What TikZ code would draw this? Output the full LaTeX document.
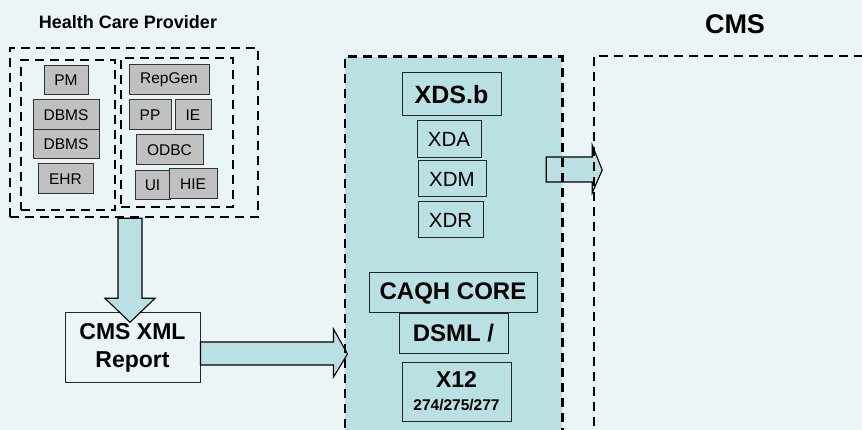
\documentclass[tikz,border=0pt]{standalone}
\usepackage{fontspec}
\setmainfont{Liberation Sans}
\usetikzlibrary{calc}

\definecolor{bgblue}{HTML}{EBF4F6}
\definecolor{panelblue}{HTML}{B9E0E3}
\definecolor{boxgray}{HTML}{C0C0C0}

\tikzset{
  dashline/.style = {line width=2.6pt, dash pattern=on 9pt off 6pt},
  dashbox/.style = {dashline, draw, inner sep=0pt},
  graybox/.style = {draw=black!80, line width=1pt, fill=boxgray, inner sep=0pt,
    font=\fontsize{15.5}{18}\selectfont},
  stdbox/.style = {draw=black!85, line width=1pt, inner sep=0pt, align=center},
  blockarr/.style = {draw=black, line width=1.1pt, fill=panelblue, line join=miter},
  heading/.style = {font=\bfseries\fontsize{#1}{#1}\selectfont}
}

\begin{document}
\begin{tikzpicture}[x=1pt, y=-1pt]
\clip (0,0) rectangle (862,430);
\fill[bgblue] (0,0) rectangle (862,430);

% provider side
\node[heading=18] (hcptitle) at (128,22) {Health Care Provider};
\node[dashbox, minimum width=248pt, minimum height=169pt] (hcp) at (134,132.5) {};
\node[dashbox, minimum width=94pt, minimum height=150pt] (hcpleft) at (68,135) {};
\node[dashbox, minimum width=112pt, minimum height=149pt] (hcpright) at (177,132.5) {};

\node[graybox, minimum width=44pt, minimum height=29pt] (pm) at (66,80.5) {PM};
\node[graybox, minimum width=66pt, minimum height=30pt] (dbms1) at (66,115) {DBMS};
\node[graybox, minimum width=66pt, minimum height=29pt] (dbms2) at (66,144.5) {DBMS};
\node[graybox, minimum width=55pt, minimum height=30pt] (ehr) at (65.5,179) {EHR};
\node[graybox, minimum width=80pt, minimum height=30pt] (repgen) at (169,80) {RepGen};
\node[graybox, minimum width=42pt, minimum height=30pt] (pp) at (150,115) {PP};
\node[graybox, minimum width=36pt, minimum height=30pt] (ie) at (193,115) {IE};
\node[graybox, minimum width=67pt, minimum height=30pt] (odbc) at (169.5,150) {ODBC};
\node[graybox, minimum width=35pt, minimum height=29pt] (ui) at (152.5,185.5) {UI};
\node[graybox, minimum width=48pt, minimum height=30pt] (hie) at (193,184) {HIE};

\node[stdbox, fill=bgblue, minimum width=135pt, minimum height=69pt,
  font=\bfseries\fontsize{23}{28}\selectfont] (xml) at (132.5,347.5) {CMS XML\\Report};

% exchange panel
\node[fill=panelblue, inner sep=0pt, minimum width=217pt, minimum height=386pt] (panel) at (453.5,250) {};

\draw[blockarr] ([xshift=-16pt]hcp.south) -- ++(0,80) -- ++(-13,0) -- ++(25,24)
  -- ++(25,-24) -- ++(-13,0) -- ++(0,-80) -- cycle;
\draw[blockarr] ($(xml.east)+(0,-5.5)$) -- ++(133,0) -- ++(0,-13) -- ++(14,25)
  -- ++(-14,23) -- ++(0,-12) -- ++(-133,0) -- cycle;
\draw[blockarr] ($(panel.east)+(-16,-93)$) -- ++(46,0) -- ++(0,-12) -- ++(10,25)
  -- ++(-10,23) -- ++(0,-11) -- ++(-46,0) -- cycle;

\draw[dashline] (panel.south west) -- (panel.north west) -- (panel.north east) -- (panel.south east);

\node[stdbox, minimum width=99pt, minimum height=43pt, heading=25] (xds) at (451.5,94.5) {XDS.b};
\node[stdbox, minimum width=64pt, minimum height=37pt, font=\fontsize{20.5}{24}\selectfont] (xda) at (449,139.5) {XDA};
\node[stdbox, minimum width=68pt, minimum height=36pt, font=\fontsize{20.5}{24}\selectfont] (xdm) at (452,179) {XDM};
\node[stdbox, minimum width=65pt, minimum height=36pt, font=\fontsize{20.5}{24}\selectfont] (xdr) at (450.5,220) {XDR};
\node[stdbox, minimum width=168pt, minimum height=40pt, heading=24] (caqh) at (453,293) {CAQH CORE};
\node[stdbox, minimum width=109pt, minimum height=39pt, heading=24] (dsml) at (453.5,333.5) {DSML /};
\node[stdbox, minimum width=109pt, minimum height=59pt, font=\bfseries\fontsize{23}{23}\selectfont] (x12) at (456.5,391.5)
  {X12\\{\fontsize{15.5}{16}\selectfont 274/275/277}};

% CMS side
\node[heading=27] (cmstitle) at (735,24) {CMS};
\node[dashbox, minimum width=286pt, minimum height=387pt] (cms) at (737,249.5) {};
\end{tikzpicture}
\end{document}
